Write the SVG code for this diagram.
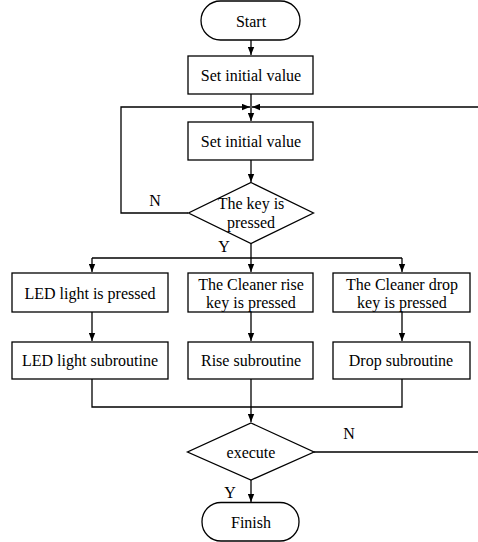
<svg xmlns="http://www.w3.org/2000/svg" width="478" height="542" viewBox="0 0 478 542">
<style>
.s{fill:#fff;stroke:#000;stroke-width:1.3}
.c{fill:none;stroke:#000;stroke-width:1.3}
text{font-family:"Liberation Serif","Times New Roman",serif;font-size:16px;fill:#000;text-anchor:middle;dominant-baseline:central}
</style>
<defs>
<marker id="a" viewBox="0 0 10 8" refX="10" refY="4" markerWidth="8" markerHeight="7" markerUnits="userSpaceOnUse" orient="auto">
<path d="M0,0 L10,4 L0,8 z" fill="#000"/>
</marker>
</defs>
<g id="connectors">
<path class="c" d="M251,40 V55" marker-end="url(#a)"/>
<path class="c" d="M251,94 V121" marker-end="url(#a)"/>
<path class="c" d="M188,213 H121 V107 H250" marker-end="url(#a)"/>
<path class="c" d="M478,107 H252" marker-end="url(#a)"/>
<path class="c" d="M251,160 V182" marker-end="url(#a)"/>
<path class="c" d="M251,243 V272" marker-end="url(#a)"/>
<path class="c" d="M92,258 H402"/>
<path class="c" d="M92,258 V272" marker-end="url(#a)"/>
<path class="c" d="M402,258 V272" marker-end="url(#a)"/>
<path class="c" d="M92,312 V341" marker-end="url(#a)"/>
<path class="c" d="M251,312 V341" marker-end="url(#a)"/>
<path class="c" d="M402,312 V341" marker-end="url(#a)"/>
<path class="c" d="M92,379 V407 H402 V379"/>
<path class="c" d="M251,379 V422" marker-end="url(#a)"/>
<path class="c" d="M314,452 H478"/>
<path class="c" d="M251,480 V502" marker-end="url(#a)"/>
<text x="155" y="200">N</text>
<text x="224" y="246">Y</text>
<text x="349" y="433">N</text>
<text x="230" y="492">Y</text>
</g>
<g id="start"><rect class="s" x="201" y="1" width="99" height="39" rx="19.5"/><text x="251" y="21">Start</text></g>
<g id="init1"><rect class="s" x="188" y="56" width="125" height="38"/><text x="251" y="75">Set initial value</text></g>
<g id="init2"><rect class="s" x="188" y="122" width="125" height="38"/><text x="251" y="141">Set initial value</text></g>
<g id="key"><polygon class="s" points="251,182.5 313.5,213 251,243.5 188.5,213"/><text x="251" y="203">The key is</text><text x="251" y="222">pressed</text></g>
<g id="led"><rect class="s" x="12" y="273" width="156" height="39"/><text x="90" y="293">LED light is pressed</text></g>
<g id="rise"><rect class="s" x="188" y="273" width="125" height="39"/><text x="251" y="284">The Cleaner rise</text><text x="251" y="302">key is pressed</text></g>
<g id="drop"><rect class="s" x="333" y="273" width="137" height="39"/><text x="402" y="284">The Cleaner drop</text><text x="402" y="302">key is pressed</text></g>
<g id="ledsub"><rect class="s" x="12" y="342" width="156" height="37"/><text x="90" y="360">LED light subroutine</text></g>
<g id="risesub"><rect class="s" x="188" y="342" width="125" height="37"/><text x="251" y="360">Rise subroutine</text></g>
<g id="dropsub"><rect class="s" x="333" y="342" width="137" height="37"/><text x="401" y="360">Drop subroutine</text></g>
<g id="execute"><polygon class="s" points="251,423 314,452 251,480 187.5,452"/><text x="251" y="452">execute</text></g>
<g id="finish"><rect class="s" x="202" y="502.5" width="97" height="38.5" rx="19"/><text x="251" y="522">Finish</text></g>
</svg>
